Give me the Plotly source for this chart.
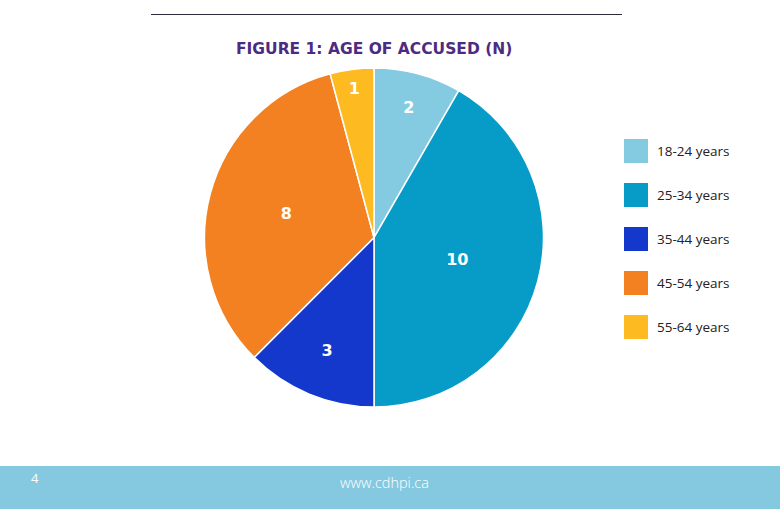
import plotly.graph_objects as go

categories = ["18-24 years", "25-34 years", "35-44 years", "45-54 years", "55-64 years"]
counts = [2, 10, 3, 8, 1]
colors = ["#84CBE2", "#069CC7", "#1437CC", "#F38121", "#FDBA21"]
title_text = "FIGURE 1: AGE OF ACCUSED (N)"
page_number = "4"
footer_url = "www.cdhpi.ca"

W, H = 780, 509

fig = go.Figure()
fig.add_trace(go.Pie(
    labels=categories,
    values=counts,
    marker=dict(colors=colors, line=dict(color="white", width=1.5)),
    sort=False,
    direction="clockwise",
    rotation=0,
    textinfo="value",
    textposition="inside",
    insidetextorientation="horizontal",
    textfont=dict(family="DejaVu Sans", size=16, color="white", weight="bold"),
    domain=dict(x=[204 / W, 544 / W], y=[1 - 407 / H, 1 - 68 / H]),
    showlegend=False,
    hoverinfo="label+value",
))

shapes = []
annotations = []

# top rule
shapes.append(dict(type="line", xref="paper", yref="paper",
                   x0=151 / W, x1=622 / W, y0=1 - 14.5 / H, y1=1 - 14.5 / H,
                   line=dict(color="#2b2b3b", width=1)))
# footer band
shapes.append(dict(type="rect", xref="paper", yref="paper",
                   x0=0, x1=1, y0=0, y1=1 - 466 / H,
                   fillcolor="#85C9E1", line=dict(width=0), layer="below"))

# legend (custom squares)
for i, (lab, col) in enumerate(zip(categories, colors)):
    ytop = 139 + i * 44
    shapes.append(dict(type="rect", xref="paper", yref="paper",
                       x0=624 / W, x1=648 / W, y0=1 - (ytop + 24) / H, y1=1 - ytop / H,
                       fillcolor=col, line=dict(width=0)))
    annotations.append(dict(text=lab, xref="paper", yref="paper",
                            x=655 / W, y=1 - (ytop + 12) / H, xanchor="left", yanchor="middle",
                            showarrow=False,
                            font=dict(family="Open Sans", size=13.5, color="#222222")))

annotations.append(dict(text=f"<b>{title_text}</b>", xref="paper", yref="paper",
                        x=374 / W, y=1 - 49 / H, xanchor="center", yanchor="middle",
                        showarrow=False,
                        font=dict(family="DejaVu Sans", size=15.5, color="#4B2C82")))
annotations.append(dict(text=page_number, xref="paper", yref="paper",
                        x=35 / W, y=1 - 478 / H, xanchor="center", yanchor="middle",
                        showarrow=False,
                        font=dict(family="Open Sans", size=13, color="white")))
annotations.append(dict(text=footer_url, xref="paper", yref="paper",
                        x=384 / W, y=1 - 482 / H, xanchor="center", yanchor="middle",
                        showarrow=False,
                        font=dict(family="Open Sans", size=14.5, color="white", weight=300)))

fig.update_layout(
    width=W, height=H,
    margin=dict(l=0, r=0, t=0, b=0),
    paper_bgcolor="white",
    plot_bgcolor="white",
    shapes=shapes,
    annotations=annotations,
)

fig.write_html("out.html", config={"displayModeBar": False},
               post_script="document.body.style.margin='0';")
